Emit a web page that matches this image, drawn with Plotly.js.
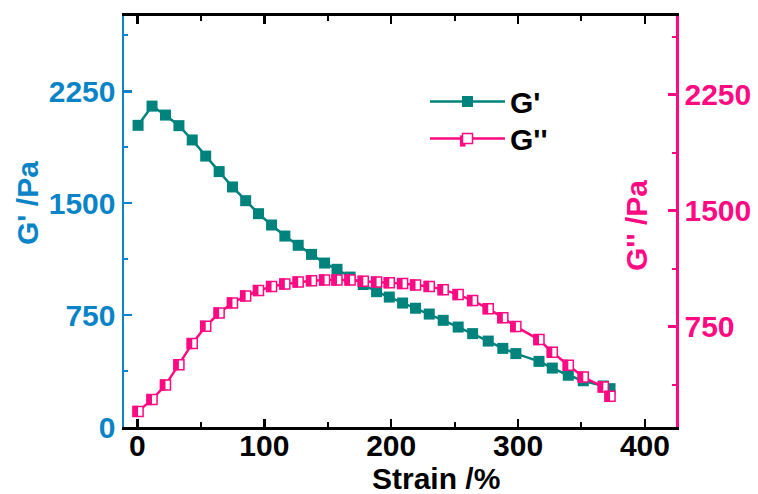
<!DOCTYPE html>
<html><head><meta charset="utf-8">
<script src="https://cdn.plot.ly/plotly-3.0.1.min.js"></script>
<style>html,body{margin:0;padding:0;background:#fff;} #chart{width:758px;height:494px;}</style>
</head><body><div id="chart"></div>
<script>
const strain = [0.5, 11.5, 22.1, 32.7, 43.2, 53.8, 64.4, 74.9, 85.3, 95.4, 105.7, 116.2, 126.7, 137.2, 147.5, 157.3, 167.6, 178.0, 188.5, 198.5, 209.0, 219.2, 230.0, 241.0, 252.8, 264.2, 276.5, 288.0, 298.3, 316.5, 327.0, 339.6, 351.4, 367.2, 372.5];
const gPrime = [2022, 2151, 2091, 2020, 1924, 1816, 1712, 1609, 1517, 1430, 1354, 1280, 1218, 1157, 1099, 1057, 1005, 955, 907, 871, 831, 796, 757, 715, 670, 626, 576, 527, 492, 440, 395, 347, 310, 275, 257];
const gDouble = [202, 278, 372, 504, 640, 752, 838, 903, 948, 983, 1009, 1025, 1038, 1047, 1051, 1051, 1051, 1043, 1038, 1034, 1028, 1019, 1010, 989, 957, 918, 866, 808, 750, 666, 584, 500, 424, 360, 299];
const xTicks = [0, 100, 200, 300, 400];
const yTicks = [0, 750, 1500, 2250];
const y2Ticks = [750, 1500, 2250];
const seriesNames = ["G'", "G''"];
const xTitle = 'Strain /%';
const yTitle = "G' /Pa";
const y2Title = "G'' /Pa";

const TEAL = '#00827d', BLUE = '#0a84c6', PINK = '#ff0a82';
const FONT = 'Liberation Sans, Arial, sans-serif';

// plot area geometry (px)
const W = 758, H = 494, ML = 124, MR = 82, MT = 16, MB = 67;
const PW = W - ML - MR, PH = H - MT - MB;
const xRange = [-10.6, 424.5];
const y1Range = [0, 2755];
const y2Range = [101, 2758];

const traces = [
  {x: strain, y: gPrime, name: seriesNames[0], type: 'scatter', mode: 'lines+markers', legend: 'legend',
   line: {color: TEAL, width: 2.5},
   marker: {symbol: 'square', size: 11, color: TEAL, line: {width: 0}}},
  {x: strain, y: gDouble, name: seriesNames[1], type: 'scatter', mode: 'lines+markers', yaxis: 'y2', legend: 'legend2',
   line: {color: PINK, width: 2.5},
   marker: {symbol: 'square', size: 10, color: 'white', line: {color: PINK, width: 1.5}}}
];

// left (filled) half of every G'' symbol: a pixel-sized rectangle anchored at each data point
const HALF = PINK;
const shapes = strain.map((s, i) => ({
  type: 'rect', layer: 'above', xref: 'x', yref: 'y2',
  xsizemode: 'pixel', ysizemode: 'pixel', xanchor: s, yanchor: gDouble[i],
  x0: -5.6, x1: 0, y0: -5.6, y1: 5.6,
  fillcolor: HALF, line: {width: 0}
}));
// same half fill on the legend symbol of G'' (legend symbol centre in px)
const legSymX = 465.5, legSymY = 141;
shapes.push({
  type: 'rect', layer: 'above', xref: 'paper', yref: 'paper',
  x0: (legSymX - 5.6 - ML) / PW, x1: (legSymX - ML) / PW,
  y0: (H - MB - legSymY - 5.6) / PH, y1: (H - MB - legSymY + 5.6) / PH,
  fillcolor: HALF, line: {width: 0}
});

const tickFont = (c) => ({family: FONT, size: 30, color: c, weight: 'bold'});
const legFont = {family: FONT, size: 30, color: 'black', weight: 'bold'};
const legX = (425 - ML) / PW;
const legRowY = (c) => (H - MB - (c - 23.5)) / PH;
const legBase = {xanchor: 'left', yanchor: 'top', bgcolor: 'rgba(0,0,0,0)', font: legFont, itemwidth: 75};

const layout = {
  width: W, height: H,
  margin: {l: ML, r: MR, t: MT, b: MB, pad: 0},
  paper_bgcolor: 'white', plot_bgcolor: 'white',
  font: {family: FONT, weight: 'bold'},
  showlegend: true,
  legend: Object.assign({x: legX, y: legRowY(99)}, legBase),
  legend2: Object.assign({x: legX, y: legRowY(136)}, legBase),
  xaxis: {range: xRange, tickmode: 'array', tickvals: xTicks, ticktext: xTicks.map(String),
          showline: true, linecolor: 'black', linewidth: 3, mirror: 'ticks',
          ticks: 'inside', ticklen: 8, tickwidth: 2.5, tickcolor: 'black', ticklabelstandoff: -10,
          minor: {tickmode: 'linear', tick0: 0, dtick: 50, ticks: 'inside', ticklen: 5, tickwidth: 2, tickcolor: 'black', showgrid: false},
          showgrid: false, zeroline: false, tickfont: tickFont('black')},
  yaxis: {range: y1Range, tickmode: 'array', tickvals: yTicks, ticktext: yTicks.map(String),
          showline: true, linecolor: BLUE, linewidth: 2.5, mirror: false,
          ticks: 'inside', ticklen: 8, tickwidth: 2.5, tickcolor: BLUE,
          minor: {tickmode: 'linear', tick0: 0, dtick: 375, ticks: 'inside', ticklen: 4, tickwidth: 2, tickcolor: BLUE, showgrid: false},
          showgrid: false, zeroline: false, tickfont: tickFont(BLUE)},
  yaxis2: {range: y2Range, overlaying: 'y', side: 'right', tickmode: 'array', tickvals: y2Ticks, ticktext: y2Ticks.map(String),
          showline: true, linecolor: PINK, linewidth: 2.5,
          ticks: 'inside', ticklen: 8, tickwidth: 2.5, tickcolor: PINK,
          minor: {tickmode: 'linear', tick0: 0, dtick: 375, ticks: 'inside', ticklen: 4, tickwidth: 2, tickcolor: PINK, showgrid: false},
          showgrid: false, zeroline: false, tickfont: tickFont(PINK)},
  shapes: shapes,
  annotations: [
    {text: xTitle, xref: 'paper', yref: 'paper', x: (436 - ML) / PW, y: (H - MB - 478.5) / PH, xanchor: 'center', yanchor: 'middle',
     showarrow: false, font: {family: FONT, size: 30, color: 'black', weight: 'bold'}},
    {text: yTitle, xref: 'paper', yref: 'paper', x: (27 - ML) / PW, y: (H - MB - 203) / PH, xanchor: 'center', yanchor: 'middle',
     textangle: -90, showarrow: false, font: {family: FONT, size: 30, color: BLUE, weight: 'bold'}},
    {text: y2Title, xref: 'paper', yref: 'paper', x: (636 - ML) / PW, y: (H - MB - 226) / PH, xanchor: 'center', yanchor: 'middle',
     textangle: -90, showarrow: false, font: {family: FONT, size: 30, color: PINK, weight: 'bold'}}
  ]
};

Plotly.newPlot('chart', traces, layout, {displayModeBar: false, staticPlot: true});
</script>
</body></html>
